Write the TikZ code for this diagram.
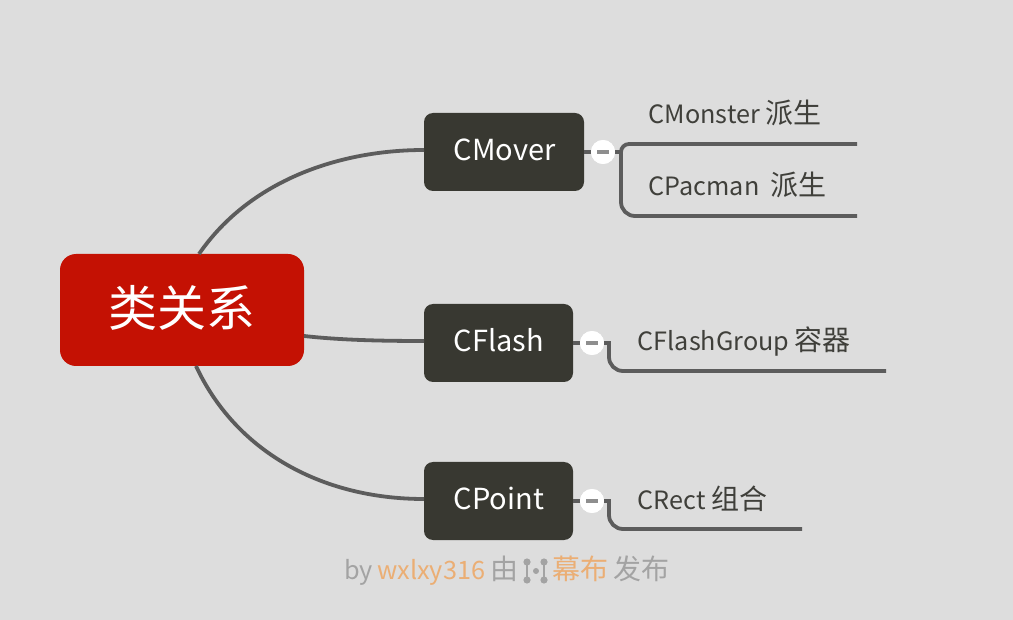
\documentclass[tikz,border=0pt]{standalone}
\usepackage{fontspec}
\setmainfont{Noto Sans CJK SC}
\definecolor{bgc}{HTML}{DDDDDD}
\definecolor{linec}{HTML}{5C5C5C}
\definecolor{boxc}{HTML}{383831}
\definecolor{rootc}{HTML}{C41103}
\definecolor{leafc}{HTML}{3F3F3A}
\definecolor{orangec}{HTML}{EBAE74}
\definecolor{grayc}{HTML}{A3A3A3}
\definecolor{dashc}{HTML}{8E8E8E}
\newcommand{\zhleaf}[1]{{\fontsize{28}{30}\selectfont #1}}
\newcommand{\zhcredit}[1]{{\fontsize{28}{30}\selectfont #1}}
\tikzset{
  branch/.style={draw=linec, line width=3.8pt},
  sub/.style={rectangle, rounded corners=9pt, fill=boxc, text=white, font=\fontsize{29}{34}\selectfont, inner sep=0pt, minimum height=78pt, text height=22pt, text depth=5pt},
  leaf/.style={text=leafc, font=\fontsize{25.2}{30}\selectfont, inner sep=0pt, anchor=base west},
  fold/.style={circle, fill=white, inner sep=0pt, minimum size=24pt},
  credit/.style={inner sep=0pt, font=\fontsize{25.3}{30}\selectfont, anchor=base west},
}
\begin{document}
\begin{tikzpicture}[x=1pt,y=-1pt]
\fill[bgc] (0,0) rectangle (1013,620);
\useasboundingbox (0,0) rectangle (1013,620);

\node[rectangle, rounded corners=16pt, fill=rootc, text=white, font=\fontsize{49}{56}\selectfont, inner sep=0pt, minimum width=244pt, minimum height=112pt, text height=40pt, text depth=6pt] (root) at (182,310){类关系};

\node[sub, minimum width=160pt] (mover) at (504,152){\hspace{1pt}CMover};
\node[sub, minimum width=149pt] (flash) at (498.5,343){\hspace{1pt}CFlash};
\node[sub, minimum width=149pt] (point) at (498.5,501){\hspace{1pt}CPoint};

\coordinate (moverin) at (424,150);
\coordinate (flashin) at (424,341);
\coordinate (pointin) at (424,499);
\coordinate (rootup) at (199,254);
\coordinate (rootmid) at (304,336);
\coordinate (rootdown) at (196,366);
\draw[branch] (rootup) .. controls (250,180) and (340,150) .. (moverin);
\draw[branch] (rootmid) .. controls (340,340) and (380,341) .. (flashin);
\draw[branch] (rootdown) .. controls (235,450) and (320,499) .. (pointin);

\node[fold] (foldmover) at (603,152){};
\node[fold] (foldflash) at (592,343){};
\node[fold] (foldpoint) at (592,501){};

\node[leaf] (monster) at (648.5,124){CMonster \zhleaf{派生}};
\node[leaf] (pacman) at (648.5,196){CPacman\ \ \zhleaf{派生}};
\node[leaf] (group) at (637.5,351){CFlashGroup \zhleaf{容器}};
\node[leaf] (rect) at (637.5,509){CRect \zhleaf{组合}};

\coordinate (monsterend) at (857,144);
\coordinate (pacmanend) at (857,216);
\coordinate (groupend) at (886,371);
\coordinate (rectend) at (802,529);
\coordinate (moverfork) at (621,152);
\coordinate (flashfork) at (609,343);
\coordinate (pointfork) at (609,501);

\draw[branch] (mover.east) -- (foldmover);
\draw[branch] (flash.east) -- (foldflash);
\draw[branch] (point.east) -- (foldpoint);
\draw[branch] (foldmover) -- (moverfork);
\draw[branch, rounded corners=8pt] (moverfork) -- (621,144) -- (monsterend);
\draw[branch, rounded corners=14pt] (moverfork) -- (621,216) -- (pacmanend);
\draw[branch] (foldflash) -- (flashfork) [rounded corners=14pt] -- (flashfork |- groupend) -- (groupend);
\draw[branch] (foldpoint) -- (pointfork) [rounded corners=14pt] -- (pointfork |- rectend) -- (rectend);

\node[fold] at (foldmover){};
\node[fold] at (foldflash){};
\node[fold] at (foldpoint){};
\foreach \f in {foldmover,foldflash,foldpoint}
  \draw[draw=dashc, line width=3.5pt] ([xshift=-6pt]\f.center) -- ([xshift=6pt]\f.center);

% credit line
\node[credit, text=grayc] (by) at (344,579){by};
\node[credit, text=orangec] (user) at (377,579){wxlxy316};
\node[credit, text=grayc] (you) at (490,579){\zhcredit{由}};
\node[credit, text=orangec] (mubu) at (552,579){\zhcredit{幕布}};
\node[credit, text=grayc] (pub) at (613,579){\zhcredit{发布}};
\fill[grayc] (527,562) circle (3.6pt) (527,580) circle (3.6pt) (544,562) circle (3.6pt) (544,580) circle (3.6pt) (536,571) circle (3pt);
\draw[grayc, line width=1.6pt] (527,562) -- (527,580) (544,562) -- (544,580);
\end{tikzpicture}
\end{document}
